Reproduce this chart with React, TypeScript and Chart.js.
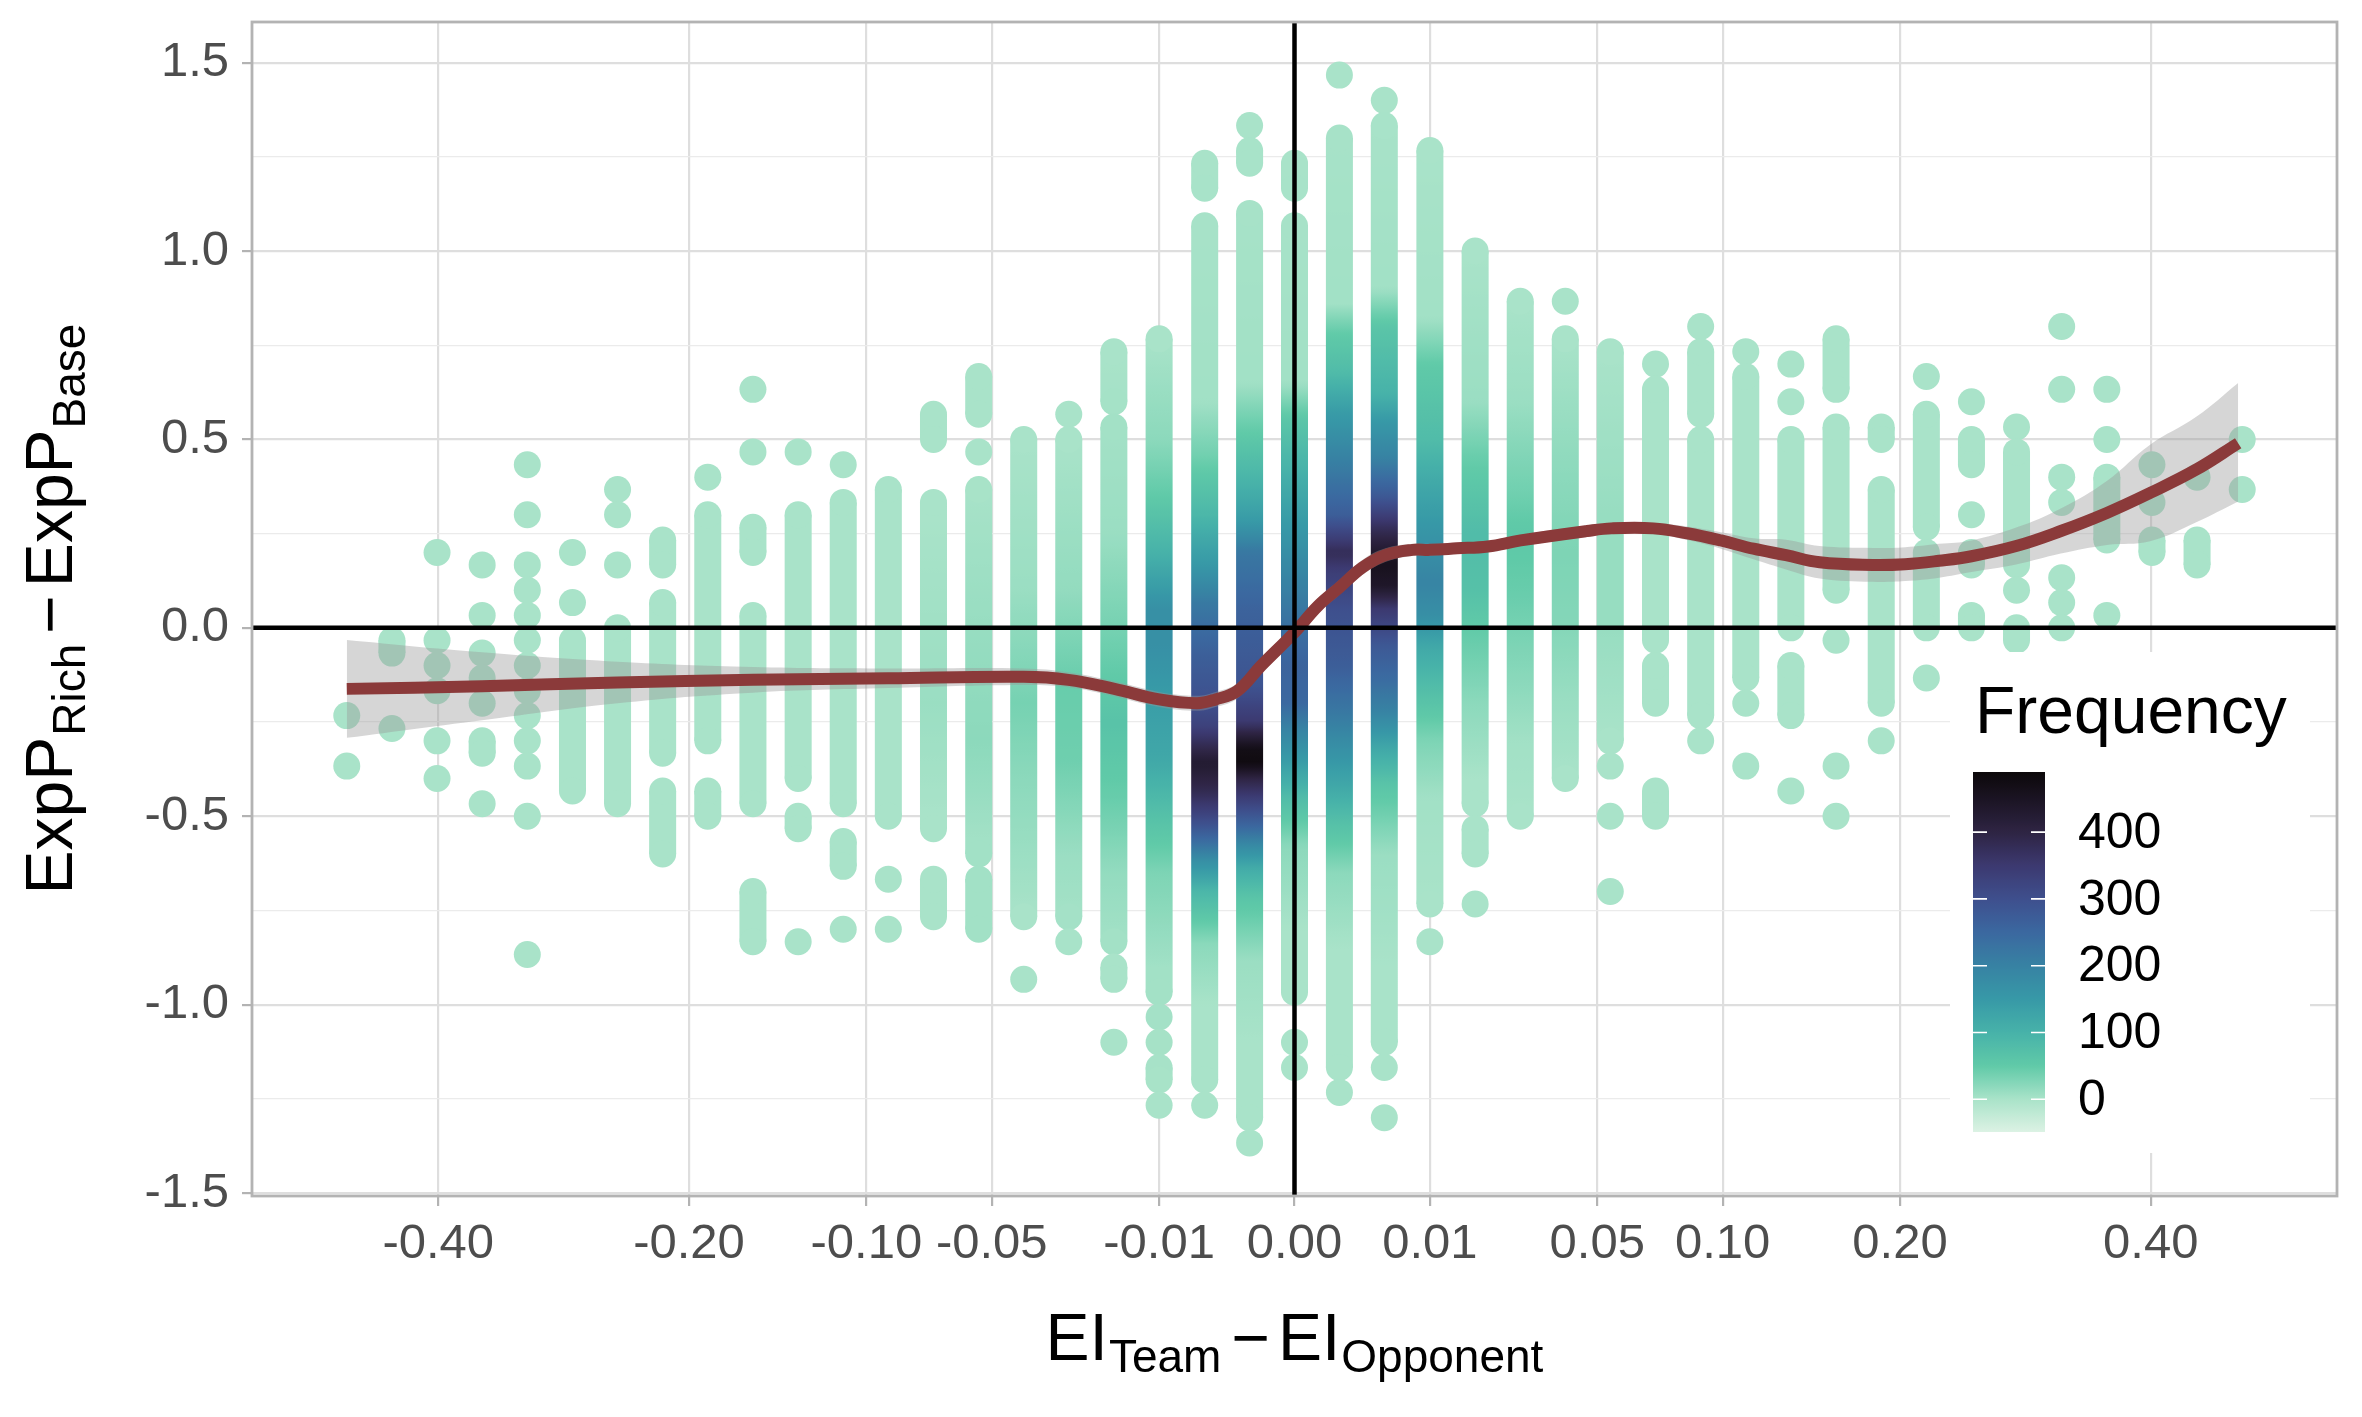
import { useEffect, useRef } from "react";
import { Chart, registerables } from "chart.js";

Chart.register(...registerables);

const FONT = "'Liberation Sans', Arial, Helvetica, sans-serif";

// x positions of the point columns (EI_Team - EI_Opponent)
const columnX = [
  -0.49, -0.4444, -0.4011, -0.36, -0.3211, -0.2844, -0.25, -0.2178, -0.1878, -0.16, -0.1344,
  -0.1111, -0.09, -0.0711, -0.0544, -0.04, -0.0278, -0.0178, -0.01, -0.0044, -0.0011, 0,
  0.0011, 0.0044, 0.01, 0.0178, 0.0278, 0.04, 0.0544, 0.0711, 0.09, 0.1111, 0.1344,
  0.16, 0.1878, 0.2178, 0.25, 0.2844, 0.3211, 0.36, 0.4011, 0.4444, 0.49,
];

// stacked points in each column: [top, bottom] for a continuous run, [y] for a lone point
const columnRuns: number[][][] = [
  [[-0.233], [-0.367]],
  [[-0.033, -0.067], [-0.267]],
  [[0.2], [-0.033], [-0.1], [-0.167], [-0.3], [-0.4]],
  [[0.167], [0.033], [-0.067], [-0.133], [-0.2], [-0.3, -0.333], [-0.467]],
  [[0.433], [0.3], [0.167], [0.1], [0.033], [-0.033], [-0.1], [-0.167], [-0.233], [-0.3], [-0.367], [-0.5], [-0.867]],
  [[0.2], [0.067], [-0.033, -0.433]],
  [[0.367], [0.3], [0.167], [0, -0.467]],
  [[0.233, 0.167], [0.067, -0.333], [-0.433, -0.6]],
  [[0.4], [0.3, -0.3], [-0.433, -0.5]],
  [[0.633], [0.467], [0.267, 0.2], [0.033, -0.467], [-0.7, -0.833]],
  [[0.467], [0.3, -0.4], [-0.5, -0.533], [-0.833]],
  [[0.433], [0.333, -0.467], [-0.567, -0.633], [-0.8]],
  [[0.367, -0.5], [-0.667], [-0.8]],
  [[0.567, 0.5], [0.333, -0.533], [-0.667, -0.767]],
  [[0.667, 0.567], [0.467], [0.367, -0.6], [-0.667, -0.8]],
  [[0.5, -0.767], [-0.933]],
  [[0.567], [0.5, -0.767], [-0.833]],
  [[0.733, 0.6], [0.533, -0.833], [-0.9, -0.933], [-1.1]],
  [[0.767, -0.967], [-1.033], [-1.1], [-1.167, -1.2], [-1.267]],
  [[1.233, 1.167], [1.067, -1.2], [-1.267]],
  [[1.333], [1.267, 1.233], [1.1, -1.3], [-1.367]],
  [[1.233, 1.167], [1.067, -0.967], [-1.1], [-1.167]],
  [[1.467], [1.3, -1.167], [-1.233]],
  [[1.4], [1.333, -1.1], [-1.167], [-1.3]],
  [[1.267, -0.733], [-0.833]],
  [[1.0, -0.467], [-0.533, -0.6], [-0.733]],
  [[0.867, -0.5]],
  [[0.867], [0.767, -0.4]],
  [[0.733, -0.3], [-0.367], [-0.5], [-0.7]],
  [[0.7], [0.633, -0.033], [-0.1, -0.2], [-0.433, -0.5]],
  [[0.8], [0.733, 0.567], [0.5, -0.233], [-0.3]],
  [[0.733], [0.667, -0.133], [-0.2], [-0.367]],
  [[0.7], [0.6], [0.5, 0], [-0.1, -0.233], [-0.433]],
  [[0.767, 0.633], [0.533, 0.1], [-0.033], [-0.367], [-0.5]],
  [[0.533, 0.5], [0.367, -0.2], [-0.3]],
  [[0.667], [0.567, 0.267], [0.2, 0], [-0.133]],
  [[0.6], [0.5, 0.433], [0.3], [0.2, 0.167], [0.033, 0]],
  [[0.533], [0.467, 0.167], [0.1], [0, -0.033]],
  [[0.8], [0.633], [0.4], [0.333], [0.133], [0.067], [0]],
  [[0.633], [0.5], [0.4, 0.233], [0.033]],
  [[0.433], [0.333], [0.233, 0.2]],
  [[0.4], [0.233, 0.167]],
  [[0.5], [0.367]],
];

// frequency along each column, [y, frequency] from top to bottom (empty = background level)
const columnFreq: number[][][] = [
  [], [], [], [], [], [], [], [], [], [], [], [], [],
  [[0.3, 0], [-0.2, 10], [-0.5, 0]],
  [[0.4, 0], [-0.1, 15], [-0.3, 20], [-0.55, 5]],
  [[0.5, 0], [0.1, 10], [-0.2, 35], [-0.4, 20], [-0.77, 0]],
  [[0.5, 0], [0.1, 15], [-0.15, 45], [-0.35, 40], [-0.6, 10], [-0.85, 0]],
  [[0.73, 0], [0.25, 10], [0, 35], [-0.25, 65], [-0.45, 45], [-0.65, 15], [-0.9, 0]],
  [[0.77, 0], [0.5, 20], [0.35, 50], [0.2, 100], [0.05, 170], [-0.05, 170], [-0.2, 140], [-0.35, 120], [-0.5, 70], [-0.65, 30], [-0.9, 5], [-1.27, 0]],
  [[1.23, 0], [0.6, 5], [0.45, 40], [0.3, 90], [0.17, 150], [0.06, 220], [-0.08, 270], [-0.2, 300], [-0.26, 330], [-0.36, 430], [-0.44, 380], [-0.5, 320], [-0.56, 250], [-0.62, 170], [-0.7, 90], [-0.84, 20], [-1.0, 0]],
  [[1.33, 0], [0.65, 5], [0.52, 50], [0.38, 100], [0.28, 150], [0.2, 220], [0.05, 260], [-0.15, 290], [-0.25, 350], [-0.32, 470], [-0.36, 480], [-0.4, 400], [-0.46, 330], [-0.52, 260], [-0.58, 180], [-0.64, 110], [-0.72, 60], [-0.88, 10], [-1.1, 0]],
  [[1.23, 0], [0.65, 5], [0.55, 60], [0.42, 100], [0.3, 140], [0.15, 190], [0.02, 230], [-0.1, 260], [-0.2, 250], [-0.28, 190], [-0.36, 140], [-0.45, 80], [-0.58, 20], [-0.8, 0]],
  [[1.47, 0], [0.86, 5], [0.78, 50], [0.68, 80], [0.58, 140], [0.45, 200], [0.3, 270], [0.2, 380], [0.15, 340], [0.05, 300], [-0.1, 270], [-0.22, 220], [-0.32, 170], [-0.42, 120], [-0.52, 70], [-0.65, 20], [-0.85, 0]],
  [[1.4, 0], [0.9, 5], [0.8, 60], [0.62, 100], [0.55, 150], [0.45, 200], [0.35, 280], [0.26, 380], [0.17, 460], [0.11, 440], [0.05, 350], [-0.05, 280], [-0.14, 240], [-0.22, 200], [-0.32, 120], [-0.42, 60], [-0.6, 10], [-0.9, 0]],
  [[1.27, 0], [0.82, 5], [0.7, 50], [0.5, 80], [0.38, 120], [0.25, 160], [0.12, 195], [0.03, 170], [-0.05, 120], [-0.15, 80], [-0.3, 30], [-0.45, 5], [-0.73, 0]],
  [[1.0, 0], [0.6, 10], [0.45, 45], [0.25, 80], [0.1, 70], [0, 50], [-0.2, 20], [-0.4, 0]],
  [[0.87, 0], [0.6, 10], [0.35, 40], [0.25, 55], [0.1, 45], [-0.1, 25], [-0.3, 5], [-0.5, 0]],
  [[0.77, 0], [0.4, 20], [0.2, 30], [0, 25], [-0.2, 10], [-0.4, 0]],
  [[0.73, 0], [0.3, 12], [0, 12], [-0.3, 0]],
  [], [], [], [], [], [], [], [], [], [], [], [], [], [],
];

// smoothed trend and its confidence band
const smoothX = [
  -0.49, -0.36, -0.25, -0.16, -0.09, -0.04, -0.0279, -0.0177, -0.01, -0.0052, -0.0034, -0.0018, -0.0006, 0,
  0.0003, 0.0011, 0.0025, 0.0045, 0.0076, 0.01, 0.0144, 0.0204, 0.0279, 0.0467, 0.0548, 0.0702, 0.0841,
  0.0992, 0.1149, 0.1318, 0.1505, 0.1823, 0.2034, 0.2266, 0.25, 0.2841, 0.3204, 0.36, 0.3994, 0.4436, 0.4858,
];
const smoothY = [
  -0.162, -0.155, -0.145, -0.138, -0.134, -0.13, -0.138, -0.162, -0.19, -0.2, -0.19, -0.168, -0.1, -0.012,
  0.058, 0.107, 0.16, 0.193, 0.207, 0.207, 0.211, 0.216, 0.232, 0.257, 0.264, 0.264, 0.251,
  0.232, 0.21, 0.193, 0.174, 0.167, 0.169, 0.178, 0.19, 0.217, 0.257, 0.305, 0.358, 0.42, 0.49,
];
const bandLow = [
  -0.292, -0.245, -0.2, -0.172, -0.16, -0.152, -0.158, -0.182, -0.21, -0.22, -0.21, -0.188, -0.12, -0.032,
  0.038, 0.087, 0.14, 0.175, 0.191, 0.191, 0.196, 0.201, 0.217, 0.242, 0.249, 0.249, 0.233,
  0.21, 0.182, 0.155, 0.131, 0.122, 0.124, 0.133, 0.148, 0.168, 0.197, 0.22, 0.23, 0.28, 0.335,
];
const bandHigh = [
  -0.032, -0.065, -0.09, -0.104, -0.108, -0.108, -0.118, -0.142, -0.17, -0.18, -0.17, -0.148, -0.08, 0.008,
  0.078, 0.127, 0.18, 0.211, 0.223, 0.223, 0.226, 0.231, 0.247, 0.272, 0.279, 0.279, 0.269,
  0.254, 0.238, 0.234, 0.217, 0.212, 0.214, 0.223, 0.232, 0.266, 0.317, 0.39, 0.486, 0.56, 0.65,
];

const xTicks = [-0.4, -0.2, -0.1, -0.05, -0.01, 0, 0.01, 0.05, 0.1, 0.2, 0.4];
const xTickLabels = ["-0.40", "-0.20", "-0.10", "-0.05", "-0.01", "0.00", "0.01", "0.05", "0.10", "0.20", "0.40"];
const yMajor = [-1.5, -1, -0.5, 0, 0.5, 1, 1.5];
const yMinor = [-1.25, -0.75, -0.25, 0.25, 0.75, 1.25];
const legendTicks = [0, 100, 200, 300, 400];
const freqRange = [-49, 490];

// colour scale (mako, light = low frequency)
const paletteFreq = [-49, 0, 50, 100, 150, 200, 250, 300, 350, 400, 450, 490];
const paletteHex = [
  "#dcf2e4", "#a9e3c9", "#60caa8", "#47b2a9", "#3799a7", "#3782a3",
  "#3b68a0", "#3e4f8d", "#3c3970", "#2e2443", "#1b1423", "#0c080a",
];

// square-root style axis: sign(x) * sqrt(|x|)
const tx = (v: number) => Math.sign(v) * Math.sqrt(Math.abs(v));

const paletteRgb = paletteHex.map((h) => [
  parseInt(h.slice(1, 3), 16),
  parseInt(h.slice(3, 5), 16),
  parseInt(h.slice(5, 7), 16),
]);

function colourFor(f: number): string {
  const fs = paletteFreq;
  let c = paletteRgb[paletteRgb.length - 1];
  if (f <= fs[0]) c = paletteRgb[0];
  else {
    for (let i = 1; i < fs.length; i++) {
      if (f <= fs[i]) {
        const t = (f - fs[i - 1]) / (fs[i] - fs[i - 1]);
        const a = paletteRgb[i - 1];
        const b = paletteRgb[i];
        c = [0, 1, 2].map((k) => Math.round(a[k] + (b[k] - a[k]) * t));
        break;
      }
    }
  }
  return `rgb(${c[0]},${c[1]},${c[2]})`;
}

function freqAt(stops: number[][], y: number): number {
  if (!stops.length) return 0;
  if (y >= stops[0][0]) return stops[0][1];
  for (let i = 1; i < stops.length; i++) {
    if (y >= stops[i][0]) {
      const t = (stops[i - 1][0] - y) / (stops[i - 1][0] - stops[i][0]);
      return stops[i - 1][1] + (stops[i][1] - stops[i - 1][1]) * t;
    }
  }
  return stops[stops.length - 1][1];
}

function columnGradient(chart: any, stops: number[][]) {
  const area = chart.chartArea;
  if (!stops.length || !area) return colourFor(0);
  const ys = chart.scales.y;
  const g = chart.ctx.createLinearGradient(0, area.top, 0, area.bottom);
  const n = 200;
  for (let i = 0; i <= n; i++) {
    const p = area.top + ((area.bottom - area.top) * i) / n;
    g.addColorStop(i / n, colourFor(freqAt(stops, ys.getValueForPixel(p))));
  }
  return g;
}

type Part = { text: string; size: number; shift: number; gap: number };

function drawParts(ctx: CanvasRenderingContext2D, parts: Part[]) {
  let total = 0;
  const widths = parts.map((p) => {
    ctx.font = `${p.size}px ${FONT}`;
    const w = ctx.measureText(p.text).width;
    total += w + p.gap;
    return w;
  });
  let x = -total / 2;
  parts.forEach((p, i) => {
    x += p.gap;
    ctx.font = `${p.size}px ${FONT}`;
    ctx.fillText(p.text, x, p.shift);
    x += widths[i];
  });
}

const decorations = {
  id: "decorations",
  afterDatasetsDraw(chart: any) {
    const { ctx, chartArea: a, scales } = chart;
    const y0 = scales.y.getPixelForValue(0);
    const x0 = scales.x.getPixelForValue(tx(0));
    ctx.save();
    ctx.strokeStyle = "#000";
    ctx.lineWidth = 4.5;
    ctx.beginPath();
    ctx.moveTo(a.left, y0);
    ctx.lineTo(a.right, y0);
    ctx.moveTo(x0, a.top);
    ctx.lineTo(x0, a.bottom);
    ctx.stroke();
    ctx.restore();
  },
  afterDraw(chart: any) {
    const { ctx, chartArea: a } = chart;
    ctx.save();
    // panel border
    ctx.strokeStyle = "#b3b3b3";
    ctx.lineWidth = 2.8;
    ctx.strokeRect(a.left, a.top, a.right - a.left, a.bottom - a.top);

    // axis titles
    ctx.fillStyle = "#000";
    ctx.textBaseline = "alphabetic";
    ctx.textAlign = "left";
    ctx.save();
    ctx.translate((a.left + a.right) / 2, 1360);
    drawParts(ctx, [
      { text: "EI", size: 66, shift: 0, gap: 0 },
      { text: "Team", size: 46, shift: 12, gap: 1 },
      { text: "\u2212", size: 66, shift: 0, gap: 10 },
      { text: "EI", size: 66, shift: 0, gap: 8 },
      { text: "Opponent", size: 46, shift: 12, gap: 1 },
    ]);
    ctx.restore();
    ctx.save();
    ctx.translate(72, (a.top + a.bottom) / 2);
    ctx.rotate(-Math.PI / 2);
    drawParts(ctx, [
      { text: "ExpP", size: 66, shift: 0, gap: 0 },
      { text: "Rich", size: 46, shift: 13, gap: 1 },
      { text: "\u2212", size: 66, shift: 0, gap: 10 },
      { text: "ExpP", size: 66, shift: 0, gap: 8 },
      { text: "Base", size: 46, shift: 13, gap: 1 },
    ]);
    ctx.restore();

    // colour bar legend
    ctx.fillStyle = "#fff";
    ctx.fillRect(1950, 652, 360, 501);
    ctx.fillStyle = "#000";
    ctx.font = `66px ${FONT}`;
    ctx.fillText("Frequency", 1975, 733);
    const bx = 1973, by = 772, bw = 72, bh = 360;
    const [fMin, fMax] = freqRange;
    const fy = (f: number) => by + bh - ((f - fMin) / (fMax - fMin)) * bh;
    const g = ctx.createLinearGradient(0, by + bh, 0, by);
    for (let i = 0; i <= 100; i++) g.addColorStop(i / 100, colourFor(fMin + ((fMax - fMin) * i) / 100));
    ctx.fillStyle = g;
    ctx.fillRect(bx, by, bw, bh);
    ctx.strokeStyle = "#fff";
    ctx.lineWidth = 1.6;
    ctx.font = `50px ${FONT}`;
    ctx.textBaseline = "middle";
    legendTicks.forEach((t) => {
      const y = fy(t);
      ctx.beginPath();
      ctx.moveTo(bx, y);
      ctx.lineTo(bx + 14, y);
      ctx.moveTo(bx + bw - 14, y);
      ctx.lineTo(bx + bw, y);
      ctx.stroke();
      ctx.fillStyle = "#000";
      ctx.fillText(String(t), 2078, y + 2);
    });
    ctx.restore();
  },
};

export default function App() {
  const canvasRef = useRef<HTMLCanvasElement>(null);

  useEffect(() => {
    document.body.style.margin = "0";
    const canvas = canvasRef.current;
    if (!canvas) return;

    Chart.defaults.font.family = FONT;
    Chart.defaults.animation = false;

    const columnSets = columnX.map((cx, i) => {
      const data: { x: number; y: number | null }[] = [];
      columnRuns[i].forEach((run) => {
        run.forEach((y) => data.push({ x: tx(cx), y }));
        data.push({ x: tx(cx), y: null });
      });
      const stops = columnFreq[i];
      return {
        type: "line",
        data,
        order: 3,
        spanGaps: false,
        tension: 0,
        borderWidth: 27,
        borderCapStyle: "butt",
        borderColor: (ctx: any) => columnGradient(ctx.chart, stops),
        pointRadius: 13.5,
        pointHoverRadius: 13.5,
        pointBorderWidth: 0,
        pointBackgroundColor: (ctx: any) => colourFor(freqAt(stops, ctx.raw?.y ?? 0)),
      };
    });

    const chart = new Chart(canvas, {
      type: "line",
      data: {
        datasets: [
          {
            data: smoothX.map((x, i) => ({ x: tx(x), y: smoothY[i] })),
            borderColor: "#8b3a3a",
            borderWidth: 12,
            pointRadius: 0,
            tension: 0.4,
            borderJoinStyle: "round",
            order: 0,
          },
          {
            data: smoothX.map((x, i) => ({ x: tx(x), y: bandHigh[i] })),
            borderWidth: 0,
            pointRadius: 0,
            fill: "+1",
            backgroundColor: "rgba(153,153,153,0.4)",
            tension: 0.4,
            order: 1,
          },
          {
            data: smoothX.map((x, i) => ({ x: tx(x), y: bandLow[i] })),
            borderWidth: 0,
            pointRadius: 0,
            fill: false,
            tension: 0.4,
            order: 2,
          },
          ...columnSets,
        ] as any,
      },
      options: {
        responsive: true,
        maintainAspectRatio: false,
        animation: false,
        events: [],
        layout: { padding: { top: 22, right: 25, left: 0, bottom: 0 } },
        plugins: { legend: { display: false }, tooltip: { enabled: false } },
        scales: {
          x: {
            type: "linear",
            min: -0.77,
            max: 0.77,
            afterFit: (s: any) => {
              s.height = 221;
              s.paddingLeft = 0;
              s.paddingRight = 0;
            },
            afterBuildTicks: (s: any) => {
              s.ticks = xTicks.map((v) => ({ value: tx(v) }));
            },
            border: { display: false },
            grid: {
              color: "#dedede",
              lineWidth: 2.2,
              tickColor: "#b3b3b3",
              tickLength: 10,
              tickWidth: 2.2,
            },
            ticks: {
              autoSkip: false,
              maxRotation: 0,
              padding: 9,
              color: "#4d4d4d",
              font: { size: 49, family: FONT },
              callback: (_v: any, i: number) => xTickLabels[i],
            },
          },
          y: {
            type: "linear",
            min: -1.508,
            max: 1.608,
            afterFit: (s: any) => {
              s.width = 252;
              s.paddingTop = 0;
              s.paddingBottom = 0;
            },
            afterBuildTicks: (s: any) => {
              s.ticks = [...yMajor, ...yMinor].sort((a, b) => a - b).map((v) => ({ value: v }));
            },
            border: { display: false },
            grid: {
              color: (c: any) => (yMajor.includes(c.tick?.value) ? "#dedede" : "#ebebeb"),
              lineWidth: (c: any) => (yMajor.includes(c.tick?.value) ? 2.2 : 1.2),
              tickColor: (c: any) => (yMajor.includes(c.tick?.value) ? "#b3b3b3" : "rgba(0,0,0,0)"),
              tickLength: 10,
              tickWidth: 2.2,
            },
            ticks: {
              autoSkip: false,
              padding: 13,
              color: "#4d4d4d",
              font: { size: 49, family: FONT },
              callback: (v: any) => (yMajor.includes(Number(v)) ? Number(v).toFixed(1) : ""),
            },
          },
        },
      },
      plugins: [decorations],
    } as any);

    return () => chart.destroy();
  }, []);

  return (
    <div style={{ position: "relative", width: 2362, height: 1417 }}>
      <canvas ref={canvasRef} />
    </div>
  );
}
